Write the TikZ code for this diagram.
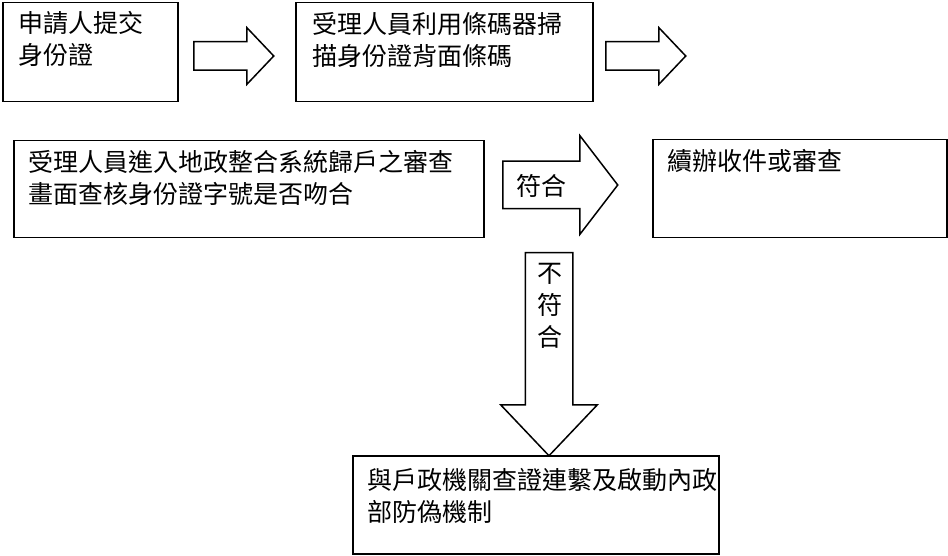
\documentclass[tikz,border=0pt]{standalone}
\usepackage{fontspec}
\newfontfamily\cjkfont{Noto Sans CJK TC}
\usetikzlibrary{shapes.arrows}
\usetikzlibrary{positioning}

\begin{document}
\begin{tikzpicture}
  [
    x=1pt,y=-1pt,
    every node/.style={font=\cjkfont\fontsize{25}{32}\selectfont},
    box/.style={draw,line width=1.5pt,inner sep=0pt,anchor=north west},
    boxtext/.style={anchor=base west,inner sep=0pt,align=left},
    blockarrow/.style={single arrow,draw,line width=1.5pt,anchor=tail},
    arrowtext/.style={inner sep=0pt,align=center},
  ]
    \useasboundingbox (0,0) rectangle (948,556);
    % boxes
    \node [box,minimum width=175pt,minimum height=99pt] (apply) at (2,2) {};
    \node [box,minimum width=297pt,minimum height=99pt] (scan) at (295,2) {};
    \node [box,minimum width=470pt,minimum height=97pt] (check) at (13,140) {};
    \node [box,minimum width=294pt,minimum height=98pt] (cont) at (652,139) {};
    \node [box,minimum width=366pt,minimum height=98pt] (link) at (352,455) {};
    % box texts (base is on the last line)
    \node [boxtext] (applytext) at ([shift={(16pt,-63pt)}]apply.north west) {申請人提交\\身份證};
    \node [boxtext] (scantext) at ([shift={(17pt,-64pt)}]scan.north west) {受理人員利用條碼器掃\\描身份證背面條碼};
    \node [boxtext] (checktext) at ([shift={(15pt,-64pt)}]check.north west) {受理人員進入地政整合系統歸戶之審查\\畫面查核身份證字號是否吻合};
    \node [boxtext] (conttext) at ([shift={(15pt,-32pt)}]cont.north west) {續辦收件或審查};
    \node [boxtext] (linktext) at ([shift={(15pt,-66pt)}]link.north west) {與戶政機關查證連繫及啟動內政\\部防偽機制};
    % block arrows
    \node [blockarrow,inner sep=13.5pt,minimum height=80pt,single arrow head extend=14pt,single arrow tip angle=93] (toscan) at (193,56) {};
    \node [blockarrow,inner sep=13.5pt,minimum height=80pt,single arrow head extend=14pt,single arrow tip angle=93] (tocheck) at (605,56) {};
    \node [blockarrow,inner sep=23pt,minimum height=115pt,single arrow head extend=25.5pt,single arrow tip angle=105] (match) at (502,185) {};
    \node [blockarrow,inner sep=23pt,shape border rotate=270,minimum height=203pt,single arrow head extend=24.5pt,single arrow tip angle=87] (nomatch) at (549,252) {};
    % arrow labels
    \node [arrowtext] (matchtext) at (541,186) {符合};
    \node [arrowtext] (nomatchtext) at (550,306) {不\\符\\合};
\end{tikzpicture}
\end{document}
